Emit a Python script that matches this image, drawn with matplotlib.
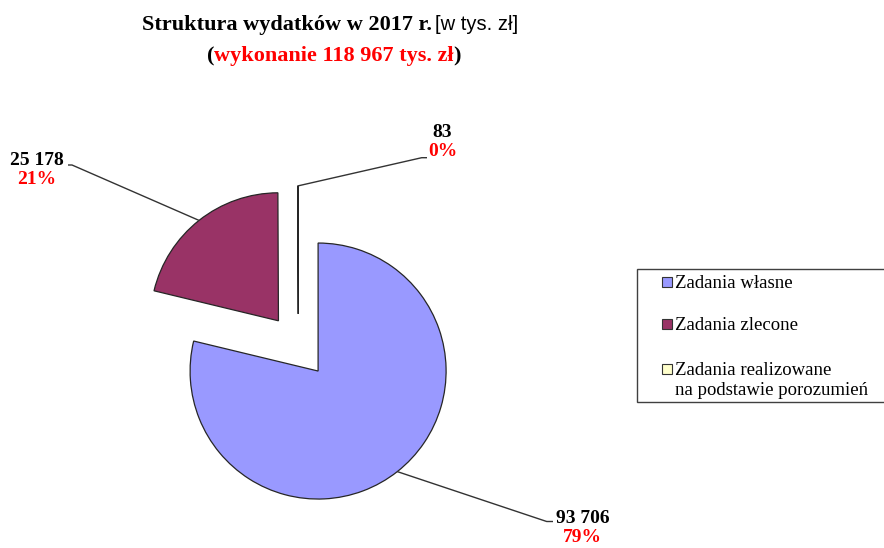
import matplotlib
matplotlib.use('Agg')
import matplotlib.pyplot as plt
from matplotlib.patches import Rectangle
import numpy as np

# ---- data ----
categories = ["Zadania własne", "Zadania zlecone",
              "Zadania realizowane\nna podstawie porozumień"]
values = [93706, 25178, 83]
value_labels = ["93 706", "25 178", "83"]
colors = ["#9999FF", "#993366", "#FFFFCC"]
title_main = "Struktura wydatków w 2017 r."
title_unit = "[w tys. zł]"
subtitle = "wykonanie 118 967 tys. zł"

# ---- figure in pixel coordinates ----
W, H = 884, 548
fig = plt.figure(figsize=(W / 100, H / 100), dpi=100)
ax = fig.add_axes([0, 0, 1, 1])


def Y(y):
    return H - y


SERIF = "Liberation Serif"
SANS = "Liberation Sans"
EDGE = "#262626"

R = 128
CX, CY = 298.3, Y(345.9)
EXP = 32
wedges, _ = ax.pie(values, explode=[EXP] * len(values), startangle=90,
                   counterclock=False, colors=colors, radius=R,
                   center=(CX, CY),
                   wedgeprops=dict(edgecolor=EDGE, linewidth=0.9))
ax.set_xlim(0, W)
ax.set_ylim(0, H)
ax.set_aspect('equal')
ax.axis('off')

total = sum(values)
pcts = [f"{round(v / total * 100):.0f}%" for v in values]

# label placement (pixel coords from top): text centre x, baseline y,
# leader elbow and end
label_pos = [(582.5, 523.0), (36.5, 165.0), (442.5, 137.0)]
leader_elbow = [(546.7, 521.5), (72.0, 165.0), (421.7, 157.7)]
leader_end = [(553.0, 521.5), (68.0, 165.0), (427.0, 157.7)]

for w, vl, pc, lp, le, lend in zip(wedges, value_labels, pcts, label_pos,
                                    leader_elbow, leader_end):
    th = np.deg2rad((w.theta1 + w.theta2) / 2)
    ax0 = w.center[0] + w.r * np.cos(th)
    ay0 = w.center[1] + w.r * np.sin(th)
    ax.plot([ax0, le[0], lend[0]], [ay0, Y(le[1]), Y(lend[1])],
            color="#333333", lw=1.0, solid_capstyle='butt')
    ax.text(lp[0], Y(lp[1]), vl, ha='center', va='baseline',
            fontfamily=SERIF, fontweight='bold', fontsize=14, color='black')
    ax.text(lp[0], Y(lp[1] + 19.5), pc, ha='center', va='baseline',
            fontfamily=SERIF, fontweight='bold', fontsize=14, color='#FF0000')

# ---- title ----
ax.text(432, Y(30), title_main, ha='right', va='baseline',
        fontfamily=SERIF, fontweight='bold', fontsize=16, color='black')
ax.text(435, Y(30), title_unit, ha='left', va='baseline',
        fontfamily=SANS, fontsize=14.5, color='black')
red = ax.text(334, Y(61), subtitle, ha='center', va='baseline',
              fontfamily=SERIF, fontweight='bold', fontsize=16, color='#FF0000')
ax.annotate("(", xy=(0, 0), xycoords=red, ha='right', va='bottom',
            fontfamily=SERIF, fontweight='bold', fontsize=16, color='black')
ax.annotate(")", xy=(1, 0), xycoords=red, ha='left', va='bottom',
            fontfamily=SERIF, fontweight='bold', fontsize=16, color='black')

# ---- legend ----
ax.add_patch(Rectangle((637, Y(402)), 300, 133, facecolor='white',
                       edgecolor='#404040', lw=1.0, zorder=3))
leg_base = [288, 330, 375]
LINE_STEP = 20
for cat, col, yb in zip(categories, colors, leg_base):
    ax.add_patch(Rectangle((662, Y(yb - 1)), 10, 10, facecolor=col,
                           edgecolor='#333333', lw=0.8, zorder=4))
    for i, line in enumerate(cat.split("\n")):
        ax.text(675, Y(yb + i * LINE_STEP), line, ha='left', va='baseline',
                fontfamily=SERIF, fontsize=13.5, color='black', zorder=5)

fig.savefig("out.png", dpi=100, facecolor='white')
